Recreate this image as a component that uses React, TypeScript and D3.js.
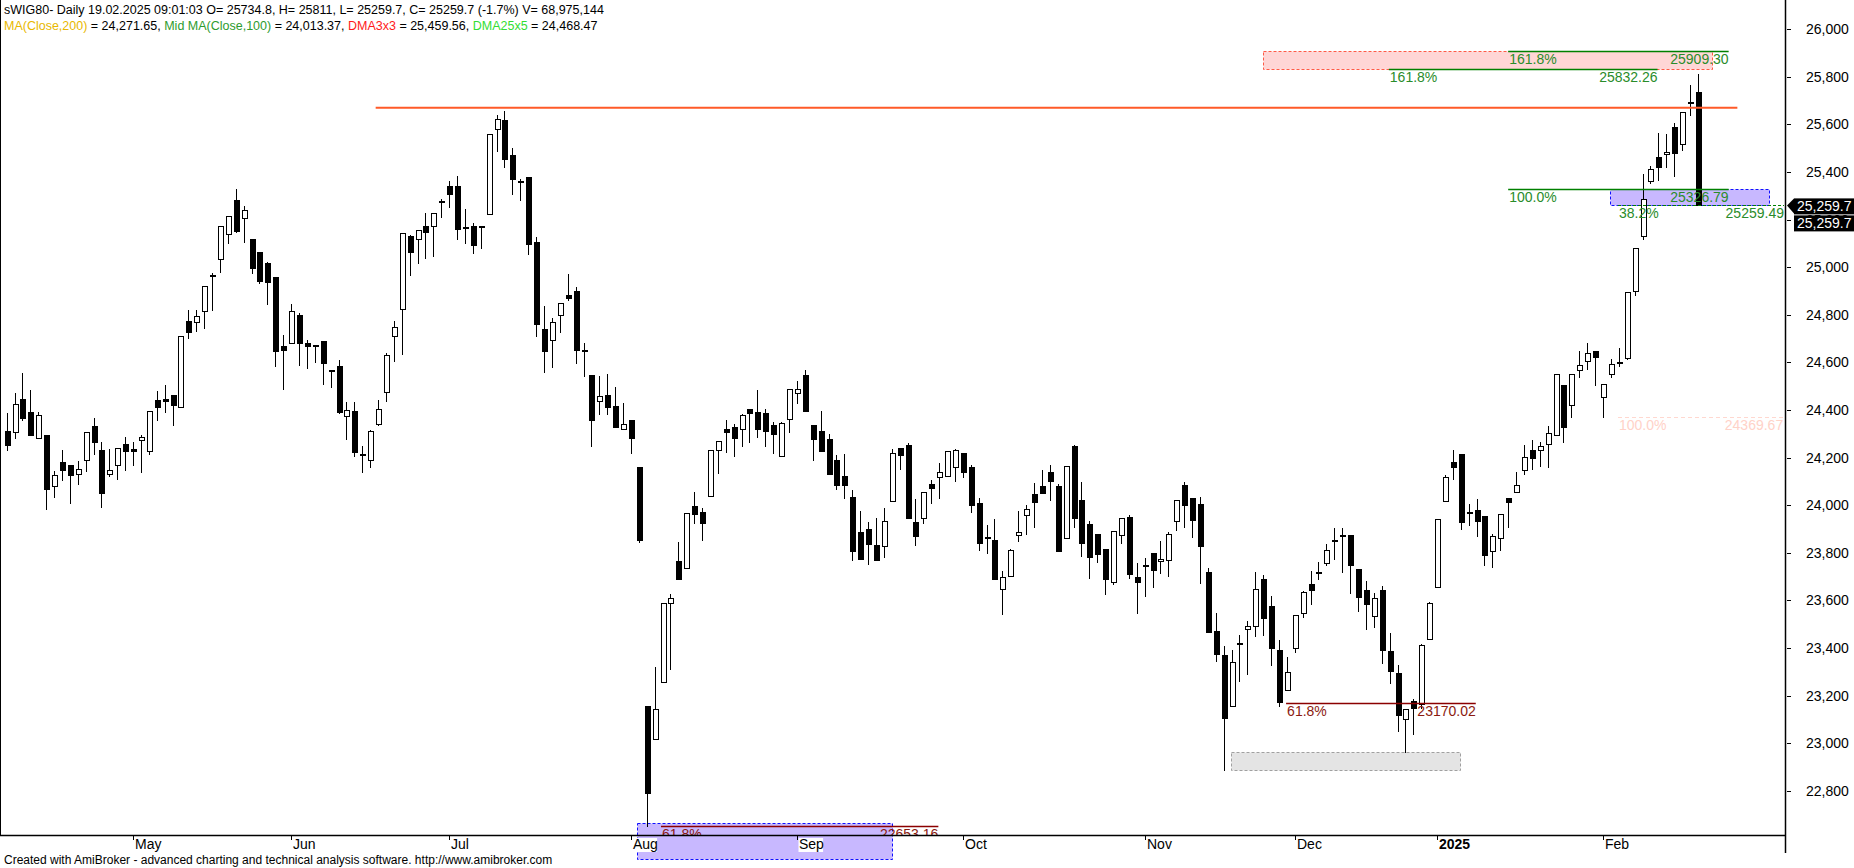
import React from 'react';
import * as d3 from 'd3';

// ---------- DATA ----------
const opens = [24311,24306,24446,24390,24282,24294,24079,24180,24171,24129,24188,24331,24234,24129,24167,24259,24238,24273,24229,24440,24448,24461,24411,24776,24768,24818,24968,25033,25138,25282,25205,25117,25062,25016,24958,24667,24680,24799,24680,24673,24689,24570,24584,24373,24395,24209,24192,24343,24474,24713,24823,25131,25117,25173,25175,25279,25343,25340,25171,25175,25167,25222,25579,25618,25471,25363,25378,25104,24740,24694,24801,24883,24900,24652,24546,24436,24465,24416,24322,24357,24160,23156,23016,23258,23588,23765,23735,23997,23970,24038,24230,24320,24327,24319,24403,24391,24387,24335,24205,24363,24470,24547,24337,24312,24278,24190,24123,24034,23887,23899,23831,23830,24016,24239,24251,23931,23947,24089,24120,24121,24162,24219,24162,24009,23865,23852,23646,23704,23873,23957,24047,24080,24138,24082,23861,24249,24020,23920,23877,23814,23676,23875,23949,23697,23747,23798,23764,23768,23935,24086,24030,24005,23718,23470,23370,23155,23418,23480,23493,23692,23575,23393,23223,23401,23547,23671,23716,23758,23851,23876,23876,23731,23644,23536,23644,23387,23294,23103,23178,23165,23439,23658,24019,24181,24214,23971,23981,23954,23808,23861,24029,24054,24147,24234,24234,24257,24295,24504,24421,24570,24605,24647,24456,24551,24598,24618,24898,25132,25364,25461,25474,25590,25519,25693,25734.8];
const highs = [24386,24470,24554,24486,24392,24294,24145,24231,24171,24185,24306,24365,24266,24238,24242,24285,24266,24297,24397,24478,24504,24461,24713,24820,24820,24923,24974,25175,25217,25327,25257,25117,25062,25020,24958,24717,24845,24806,24694,24673,24689,24570,24609,24434,24434,24248,24315,24441,24640,24775,25142,25135,25156,25226,25226,25287,25362,25385,25244,25184,25175,25559,25639,25656,25499,25370,25378,25128,24836,24785,24848,24971,24915,24680,24546,24544,24553,24495,24430,24357,24160,23156,23322,23587,23625,23845,23966,24054,23987,24230,24268,24358,24341,24383,24405,24484,24405,24349,24349,24487,24522,24568,24337,24396,24299,24209,24215,24064,23976,23928,23945,23987,24235,24239,24263,24024,24057,24104,24177,24226,24236,24219,24167,24030,23917,23942,23725,23816,23975,24001,24092,24150,24169,24089,24165,24253,24097,23933,23877,23814,23890,23947,23959,23756,23779,23798,23851,23887,24020,24097,24030,24033,23735,23545,23408,23393,23455,23513,23721,23706,23619,23432,23362,23538,23638,23725,23760,23837,23903,23903,23876,23731,23683,23629,23661,23464,23329,23142,23184,23416,23594,23944,24125,24232,24214,24006,24025,23954,23880,23961,24029,24141,24253,24276,24266,24334,24551,24504,24551,24649,24682,24647,24508,24614,24659,24895,25082,25391,25426,25565,25561,25606,25654,25764,25811];
const lows = [24232,24281,24357,24296,24282,23982,24033,24105,24010,24091,24145,24215,23993,24122,24112,24150,24168,24140,24215,24360,24392,24339,24411,24703,24733,24745,24820,24981,25103,25147,25107,24974,24934,24845,24586,24490,24680,24591,24577,24602,24509,24495,24388,24280,24206,24138,24161,24339,24437,24607,24637,24968,25016,25037,25048,25209,25251,25119,25100,25058,25079,25222,25489,25419,25307,25282,25055,24712,24560,24582,24729,24862,24596,24544,24250,24385,24385,24329,24322,24220,23847,22653.16,23016,23258,23312,23688,23735,23924,23854,24038,24137,24223,24208,24250,24267,24288,24249,24218,24205,24309,24431,24397,24190,24229,24131,24068,24031,23770,23775,23753,23771,23784,24016,24151,23945,23833,23926,24010,24032,24121,24102,24120,23971,23812,23798,23691,23544,23704,23851,23879,23910,24052,24022,23809,23861,23910,23786,23695,23763,23625,23667,23840,23695,23548,23620,23658,23714,23704,23896,23910,23868,23674,23468,23347,22887,23155,23261,23291,23451,23455,23329,23155,23223,23383,23532,23586,23690,23749,23774,23721,23633,23555,23478,23490,23335,23252,23053,22962,23039,23146,23439,23658,24019,24108,23899,23918,23870,23749,23741,23812,23909,24054,24131,24151,24164,24160,24295,24266,24369.67,24537,24572,24504,24369.67,24537,24585,24614,24885,25117,25355,25368,25420,25382,25494,25639,25259.7];
const closes = [24253,24425,24367,24296,24378,24066,24125,24150,24128,24153,24306,24264,24052,24146,24242,24227,24229,24287,24397,24411,24439,24423,24713,24729,24793,24923,24963,25175,25217,25152,25240,24995,24941,24939,24649,24653,24817,24680,24667,24670,24596,24562,24392,24402,24224,24217,24310,24406,24629,24747,25142,25065,25156,25146,25226,25278,25308,25159,25168,25094,25175,25559,25621,25453,25369,25362,25098,24762,24649,24768,24848,24871,24653,24650,24360,24457,24411,24329,24341,24283,23854,22789,23142,23587,23609,23688,23966,23961,23924,24230,24268,24306,24284,24377,24389,24319,24313,24300,24344,24487,24487,24397,24279,24229,24131,24085,24086,23809,23775,23835,23771,23932,24218,24212,23945,23872,24057,24073,24138,24226,24230,24141,24002,23842,23861,23691,23700,23812,23886,23982,24013,24052,24103,23809,24165,23947,23840,23784,23793,23688,23890,23947,23709,23677,23744,23726,23774,23877,24020,23999,23939,23830,23468,23376,23105,23343,23421,23493,23648,23526,23401,23174,23300,23538,23634,23644,23720,23810,23854,23870,23749,23615,23586,23609,23393,23304,23117,23142,23146,23412,23590,23944,24117,24162,23928,23967,23934,23789,23870,23961,24012,24083,24203,24199,24247,24305,24551,24330,24551,24591,24638,24624,24508,24595,24602,24895,25082,25287,25413,25420,25484,25478,25654,25691,25259.7];

const monthLabels = ['May', 'Jun', 'Jul', 'Aug', 'Sep', 'Oct', 'Nov', 'Dec', '2025', 'Feb'];
const monthBarIndex = [16, 36, 56, 79, 100, 121, 144, 163, 181, 202];
const priceTicks = [22800, 23000, 23200, 23400, 23600, 23800, 24000, 24200, 24400, 24600, 24800, 25000, 25200, 25400, 25600, 25800, 26000];

// Fibonacci level lines: [startBar, endBar, value, label]
const fibStart = [190, 174.9, 190, 203.9, 203.9, 161.9, 82.8];
const fibEnd = [217.9, 208.9, 217.9, 224.9, 224.8, 185.9, 117.9];
const fibValue = [25909.30, 25832.26, 25326.79, 25259.49, 24369.67, 23170.02, 22653.16];
const fibLabel = ['161.8%', '161.8%', '100.0%', '38.2%', '100.0%', '61.8%', '61.8%'];
const fibKind = ['green', 'green', 'green', 'greenDash', 'pinkDash', 'red', 'red'];

// Zones: [startBar, endBar, lowValue, highValue]
const zoneStart = [159, 202.9, 154.9, 79.8];
const zoneEnd = [215.8, 223, 183.9, 112];
const zoneLow = [25832.26, 25259.49, 22887, 22513];
const zoneHigh = [25909.30, 25326.79, 22962, 22666];
const zoneKind = ['pink', 'purple', 'gray', 'purple'];

const resistStart = 46.7;
const resistEnd = 219;
const resistValue = 25670;

const lastPrice = 25259.7;

// ---------- STYLES ----------
const W = 1854;
const H = 868;
const plotRight = 1785;
const plotBottom = 835;
const FONT = '"Liberation Sans", Arial, sans-serif';

const fibStyles: Record<string, { line: string; text: string; dash?: string; w: number }> = {
  green: { line: '#008000', text: '#2a8c2a', w: 1.5 },
  greenDash: { line: '#008000', text: '#2a8c2a', dash: '3,2', w: 1 },
  pinkDash: { line: '#ffd8d0', text: '#ffd2c8', dash: '4,3', w: 1 },
  red: { line: '#8b0000', text: '#8b1a10', w: 1.5 },
};
const zoneStyles: Record<string, { fill: string; stroke: string }> = {
  pink: { fill: '#ffd6d6', stroke: '#ff5a46' },
  purple: { fill: '#c8b8ff', stroke: '#1010ff' },
  gray: { fill: '#e4e4e4', stroke: '#a0a0a0' },
};

export default function App() {
  const x = d3.scaleLinear().domain([0, 214]).range([6.6, 6.6 + 214 * 7.903]);
  const y = d3.scaleLinear().domain([22800, 26000]).range([790.8, 29.2]);
  const fmtAxis = d3.format(',');
  const fmtLast = d3.format(',.1f');

  const candles = opens.map((o, i) => {
    const c = closes[i];
    const h = highs[i];
    const l = lows[i];
    const px = Math.round(x(i));
    const top = Math.round(y(Math.max(o, c)));
    const bot = Math.round(y(Math.min(o, c)));
    const up = c >= o;
    const bh = bot - top;
    return (
      <g key={i}>
        <line x1={px + 0.5} x2={px + 0.5} y1={Math.round(y(h))} y2={Math.round(y(l)) + 1} stroke="#000" strokeWidth={1} />
        {bh < 2 ? (
          <rect x={px - 2} y={top} width={6} height={2} fill="#000" />
        ) : up ? (
          <rect x={px - 1.5} y={top + 0.5} width={5} height={bh} fill="#fff" stroke="#000" strokeWidth={1} />
        ) : (
          <rect x={px - 2} y={top} width={6} height={bh + 1} fill="#000" />
        )}
      </g>
    );
  });

  return (
    <div style={{ position: 'absolute', left: 0, top: 0, width: W, height: H, background: '#fff' }}>
      <svg width={W} height={H} style={{ display: 'block', fontFamily: FONT }}>
        <defs>
          <clipPath id="plot">
            <rect x={0} y={0} width={plotRight} height={plotBottom} />
          </clipPath>
        </defs>
        <rect x={0} y={0} width={W} height={H} fill="#fff" />

        {/* zones */}
        {zoneStart.map((s, k) => {
          const st = zoneStyles[zoneKind[k]];
          const x0 = Math.round(x(s)) + 0.5;
          const x1 = Math.round(x(zoneEnd[k])) + 0.5;
          const y0 = Math.round(y(zoneHigh[k])) + 0.5;
          const y1 = Math.round(y(zoneLow[k])) + 0.5;
          return (
            <rect key={'z' + k} x={x0} y={y0} width={x1 - x0} height={y1 - y0} fill={st.fill}
              stroke={st.stroke} strokeWidth={1} strokeDasharray="3,2" />
          );
        })}

        {/* candles */}
        <g clipPath="url(#plot)" shapeRendering="crispEdges">{candles}</g>

        {/* resistance line */}
        <line x1={x(resistStart)} x2={x(resistEnd)} y1={y(resistValue)} y2={y(resistValue)} stroke="#ff5a28" strokeWidth={2} />

        {/* fib lines */}
        <g clipPath="url(#plot)">
          {fibStart.map((s, k) => {
            const st = fibStyles[fibKind[k]];
            const x0 = x(s);
            const x1 = x(fibEnd[k]);
            const yy = Math.round(y(fibValue[k])) + 0.5;
            return (
              <g key={'f' + k}>
                <line x1={x0} x2={x1} y1={yy} y2={yy} stroke={st.line} strokeWidth={st.w} strokeDasharray={st.dash} />
                <text x={x0 + 1} y={yy + 12.5} fontSize={14} fill={st.text}>{fibLabel[k]}</text>
                <text x={x1} y={yy + 12.5} fontSize={14} fill={st.text} textAnchor="end">{fibValue[k].toFixed(2)}</text>
              </g>
            );
          })}
        </g>

        {/* frame */}
        <line x1={0.5} x2={0.5} y1={0} y2={plotBottom} stroke="#000" />
        <line x1={0} x2={plotRight} y1={plotBottom + 0.5} y2={plotBottom + 0.5} stroke="#000" strokeWidth={1.5} />
        <line x1={plotRight + 0.5} x2={plotRight + 0.5} y1={0} y2={853} stroke="#000" strokeWidth={1.5} />

        {/* y axis */}
        {priceTicks.map((v) => (
          <g key={'t' + v}>
            <line x1={plotRight + 2} x2={plotRight + 6} y1={Math.round(y(v)) + 0.5} y2={Math.round(y(v)) + 0.5} stroke="#000" />
            <text x={1806} y={y(v)} dy="0.36em" fontSize={14} fill="#000">{fmtAxis(v)}</text>
          </g>
        ))}

        {/* last price boxes */}
        <path d={`M${plotRight + 2},${y(lastPrice)} L${1794},${y(lastPrice) - 7} L${1794},${y(lastPrice) + 8} Z`} fill="#000" />
        <rect x={1794} y={y(lastPrice) - 7} width={60} height={16} fill="#000" />
        <text x={1797} y={y(lastPrice) + 1} dy="0.36em" fontSize={14} fill="#fff">{fmtLast(lastPrice)}</text>
        <rect x={1794} y={y(lastPrice) + 10} width={60} height={16} fill="#000" />
        <text x={1797} y={y(lastPrice) + 18} dy="0.36em" fontSize={14} fill="#fff">{fmtLast(lastPrice)}</text>

        {/* x axis */}
        {monthBarIndex.map((b, k) => {
          const tx = Math.round(x(b)) + 0.5;
          const bold = monthLabels[k] === '2025';
          const wTxt = bold ? 33 : monthLabels[k].length * 8.2;
          return (
            <g key={'m' + k}>
              <rect x={tx + 1} y={838} width={wTxt} height={14} fill="#fff" />
              <line x1={tx} x2={tx} y1={plotBottom} y2={plotBottom + 5} stroke="#000" />
              <text x={tx + 1.5} y={849} fontSize={14} fontWeight={bold ? 'bold' : 'normal'} fill="#000">{monthLabels[k]}</text>
            </g>
          );
        })}

        {/* header */}
        <text x={4} y={14} fontSize={12.5} fill="#000">
          sWIG80- Daily 19.02.2025 09:01:03 O= 25734.8, H= 25811, L= 25259.7, C= 25259.7 (-1.7%) V= 68,975,144
        </text>
        <text x={4} y={30} fontSize={12.5} fill="#000">
          <tspan fill="#e8b800">MA(Close,200)</tspan>
          <tspan> = 24,271.65, </tspan>
          <tspan fill="#2e9b2e">Mid MA(Close,100)</tspan>
          <tspan> = 24,013.37, </tspan>
          <tspan fill="#ff1a1a">DMA3x3</tspan>
          <tspan> = 25,459.56, </tspan>
          <tspan fill="#33dd33">DMA25x5</tspan>
          <tspan> = 24,468.47</tspan>
        </text>

        {/* credits */}
        <text x={4} y={864} fontSize={12} fill="#000">
          Created with AmiBroker - advanced charting and technical analysis software. http://www.amibroker.com
        </text>
      </svg>
    </div>
  );
}
